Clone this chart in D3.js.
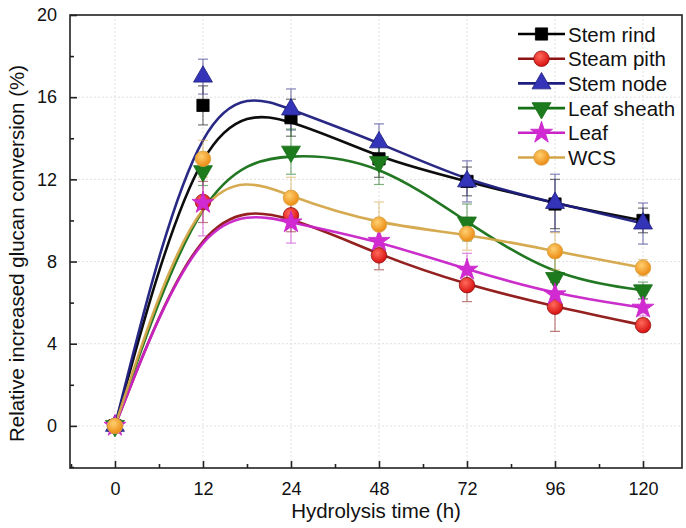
<!DOCTYPE html>
<html>
<head>
<meta charset="utf-8">
<script src="https://cdn.jsdelivr.net/npm/d3@7/dist/d3.min.js"></script>
<style>
  html, body { margin: 0; padding: 0; background: #fff; }
  svg { display: block; font-family: "Liberation Sans", Arial, sans-serif; }
</style>
</head>
<body>
<svg id="chart" width="686" height="528"></svg>
<script>
// Hydrolysis time points (h), drawn at evenly spaced positions
const timeLabels = ["0", "12", "24", "48", "72", "96", "120"];
const yTicks = [0, 4, 8, 12, 16, 20];

const seriesNames = ["Stem rind", "Steam pith", "Stem node", "Leaf sheath", "Leaf", "WCS"];

// Relative increased glucan conversion (%) per fraction
const stemRind   = [0, 15.6, 15.0, 13.0, 11.9, 10.8, 10.0];
const steamPith  = [0, 10.9, 10.25, 8.3, 6.85, 5.8, 4.9];
const stemNode   = [0, 17.0, 15.4, 13.8, 11.9, 10.85, 9.85];
const leafSheath = [0, 12.4, 13.35, 12.85, 9.9, 7.2, 6.6];
const leaf       = [0, 10.85, 9.9, 9.0, 7.6, 6.4, 5.75];
const wcs        = [0, 13.0, 11.1, 9.8, 9.35, 8.5, 7.7];

// Standard deviations (error bars)
const stemRindErr   = [0, 0.95, 0.9, 0.9, 0.7, 1.2, 0.6];
const steamPithErr  = [0, 1.0, 0.8, 0.7, 0.8, 1.2, 0.3];
const stemNodeErr   = [0, 0.85, 1.0, 0.9, 1.0, 1.4, 1.0];
const leafSheathErr = [0, 0.7, 1.1, 1.1, 0.9, 1.0, 0.4];
const leafErr       = [0, 1.6, 1.0, 0.6, 0.8, 0.6, 0.4];
const wcsErr        = [0, 0.9, 1.0, 1.1, 0.8, 0.9, 0.4];

const series = [
  { name: seriesNames[0], values: stemRind,   err: stemRindErr,   line: "#000000", fill: "#000000", symbol: "square" },
  { name: seriesNames[1], values: steamPith,  err: steamPithErr,  line: "#8e1414", fill: "url(#gRed)", symbol: "circle" },
  { name: seriesNames[2], values: stemNode,   err: stemNodeErr,   line: "#1e1e7e", fill: "#3434b8", symbol: "triangle" },
  { name: seriesNames[3], values: leafSheath, err: leafSheathErr, line: "#167016", fill: "#1d7a1d", symbol: "triangleDown" },
  { name: seriesNames[4], values: leaf,       err: leafErr,       line: "#c824c8", fill: "#d22ad2", symbol: "star" },
  { name: seriesNames[5], values: wcs,        err: wcsErr,        line: "#d4a548", fill: "url(#gOrange)", symbol: "circle" }
];

const svg = d3.select("#chart");
const plotLeft = 70, plotRight = 682, plotTop = 15, plotBottom = 468;

const x = d3.scaleLinear().domain([-0.511, 6.443]).range([plotLeft, plotRight]);
const y = d3.scaleLinear().domain([-2.05, 20]).range([plotBottom, plotTop]);

// Shaded fills for the round markers
const defs = svg.append("defs");
function radial(id, c0, c1) {
  const g = defs.append("radialGradient").attr("id", id)
    .attr("cx", "40%").attr("cy", "35%").attr("r", "65%");
  g.append("stop").attr("offset", "0%").attr("stop-color", c0);
  g.append("stop").attr("offset", "100%").attr("stop-color", c1);
}
radial("gRed", "#ff6a5a", "#d81010");
radial("gOrange", "#ffd070", "#ec8a12");

// Grid lines
const grid = svg.append("g").attr("stroke", "#d8d8d8").attr("stroke-width", 0.8)
  .attr("stroke-dasharray", "2,2");
grid.selectAll("line.v").data(d3.range(timeLabels.length)).join("line").attr("class", "v")
  .attr("x1", d => x(d)).attr("x2", d => x(d)).attr("y1", plotTop).attr("y2", plotBottom);
grid.selectAll("line.h").data(yTicks).join("line").attr("class", "h")
  .attr("y1", d => y(d)).attr("y2", d => y(d)).attr("x1", plotLeft).attr("x2", plotRight);

// Axes with inward ticks
const xAxis = d3.axisBottom(x).tickValues(d3.range(timeLabels.length))
  .tickFormat(i => timeLabels[i]).tickSizeInner(-7).tickSizeOuter(0).tickPadding(14);
svg.append("g").attr("transform", `translate(0,${plotBottom})`).call(xAxis);
const xMinor = d3.axisBottom(x).tickValues(d3.range(-0.5, 6.5, 1))
  .tickFormat("").tickSizeInner(-4).tickSizeOuter(0);
svg.append("g").attr("transform", `translate(0,${plotBottom})`).call(xMinor);

const yAxis = d3.axisLeft(y).tickValues(yTicks).tickSizeInner(-7).tickSizeOuter(0).tickPadding(13);
svg.append("g").attr("transform", `translate(${plotLeft},0)`).call(yAxis);
const yMinor = d3.axisLeft(y).tickValues(d3.range(-2, 20, 4)).tickFormat("").tickSizeInner(-4).tickSizeOuter(0);
svg.append("g").attr("transform", `translate(${plotLeft},0)`).call(yMinor);

svg.selectAll(".domain").remove();
svg.selectAll(".tick line").attr("stroke", "#222").attr("stroke-width", 1.6);
svg.selectAll(".tick text").attr("font-size", 18).attr("fill", "#111")
  .attr("font-family", "'Liberation Sans', Arial, sans-serif");

// Frame
svg.append("rect").attr("x", plotLeft).attr("y", plotTop)
  .attr("width", plotRight - plotLeft).attr("height", plotBottom - plotTop)
  .attr("fill", "none").attr("stroke", "#222").attr("stroke-width", 1.6);

// Axis titles
svg.append("text").attr("x", 376).attr("y", 518).attr("text-anchor", "middle")
  .attr("font-size", 20.5).attr("fill", "#111").text("Hydrolysis time (h)");
svg.append("text").attr("transform", `translate(24,${(plotTop + plotBottom) / 2 + 12}) rotate(-90)`)
  .attr("text-anchor", "middle").attr("font-size", 20.5).attr("fill", "#111")
  .text("Relative increased glucan conversion (%)");

// Smooth B-spline curves
const line = d3.line().x((d, i) => x(i)).y(d => y(d)).curve(d3.curveBasis);
const plot = svg.append("g");
series.forEach(s => {
  plot.append("path").datum(s.values).attr("d", line)
    .attr("fill", "none").attr("stroke", s.line).attr("stroke-width", 2.6).attr("opacity", 0.95);
});

// Error bars
series.forEach(s => {
  const g = plot.append("g").attr("stroke", s.line).attr("stroke-width", 1.2).attr("opacity", 0.55);
  s.values.forEach((v, i) => {
    const e = s.err[i];
    if (!e) return;
    const cx = x(i);
    g.append("line").attr("x1", cx).attr("x2", cx).attr("y1", y(v - e)).attr("y2", y(v + e));
    g.append("line").attr("x1", cx - 5).attr("x2", cx + 5).attr("y1", y(v - e)).attr("y2", y(v - e));
    g.append("line").attr("x1", cx - 5).attr("x2", cx + 5).attr("y1", y(v + e)).attr("y2", y(v + e));
  });
});

// Markers
const symbolTypes = {
  square: { type: d3.symbolSquare, size: 150, rot: 0 },
  circle: { type: d3.symbolCircle, size: 190, rot: 0 },
  triangle: { type: d3.symbolTriangle, size: 155, rot: 0 },
  triangleDown: { type: d3.symbolTriangle, size: 155, rot: 180 },
  star: { type: d3.symbolStar, size: 150, rot: 0 }
};
function drawMarker(g, s, cx, cy) {
  const t = symbolTypes[s.symbol];
  g.append("path").attr("d", d3.symbol().type(t.type).size(t.size)())
    .attr("transform", `translate(${cx},${cy}) rotate(${t.rot})`)
    .attr("fill", s.fill).attr("stroke", s.line).attr("stroke-width", 0.8);
}
series.forEach(s => {
  const g = plot.append("g");
  s.values.forEach((v, i) => drawMarker(g, s, x(i), y(v)));
});

// Legend
const legend = svg.append("g");
series.forEach((s, k) => {
  const ly = 34 + k * 24.7;
  legend.append("line").attr("x1", 518).attr("x2", 565).attr("y1", ly).attr("y2", ly)
    .attr("stroke", s.line).attr("stroke-width", 2.6);
  drawMarker(legend, s, 541.5, ly);
  legend.append("text").attr("x", 568).attr("y", ly + 7.5).attr("font-size", 20.5).attr("fill", "#111")
    .text(s.name);
});
</script>
</body>
</html>
